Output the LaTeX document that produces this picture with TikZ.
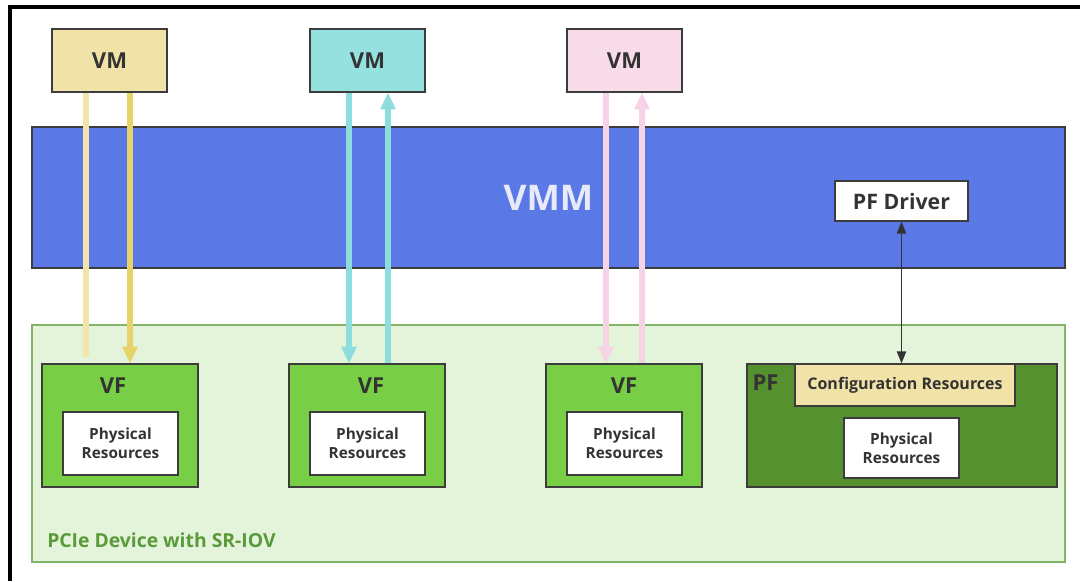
\documentclass[tikz,border=0pt]{standalone}
\usepackage{fontspec}
\setmainfont{Open Sans}
\usetikzlibrary{arrows.meta}
\definecolor{txtgray}{HTML}{333333}
\definecolor{boxline}{HTML}{3C3C3C}
\definecolor{vmyellow}{HTML}{F1E2A7}
\definecolor{vmcyan}{HTML}{95E1E0}
\definecolor{vmpink}{HTML}{F9DCEA}
\definecolor{vmmblue}{HTML}{5A78E6}
\definecolor{vmmtext}{HTML}{E8EAF8}
\definecolor{pciefill}{HTML}{E4F4DA}
\definecolor{pcieline}{HTML}{82B366}
\definecolor{pcietext}{HTML}{5A9A3A}
\definecolor{vfgreen}{HTML}{78CF45}
\definecolor{pfgreen}{HTML}{55922F}
\definecolor{arlightyel}{HTML}{F3E5A8}
\definecolor{ardarkyel}{HTML}{E6D46B}
\definecolor{arcyan}{HTML}{8EDDDE}
\definecolor{arpink}{HTML}{F6D3E5}
\tikzset{
  box/.style={draw=boxline,line width=1pt,inner sep=0pt,text=txtgray},
  vmbox/.style={box,minimum width=86.25pt,minimum height=47.25pt,font=\fontsize{16.5}{19}\selectfont\bfseries},
  vfbox/.style={box,fill=vfgreen,minimum width=117pt,minimum height=92.25pt},
  resbox/.style={box,fill=white,minimum width=86.25pt,minimum height=47.25pt,align=center,font=\fontsize{11.5}{14}\selectfont\bfseries},
  vftext/.style={inner sep=0pt,text=txtgray,font=\fontsize{16.5}{19}\selectfont\bfseries},
  vmline/.style={line width=4.5pt},
  vmarrow/.style={vmline,-{Triangle[width=11pt,length=12.5pt]}}
}
\begin{document}
\begin{tikzpicture}[x=0.75pt,y=-0.75pt]
\useasboundingbox (0,0) rectangle (1080,581);
\fill[white] (0,0) rectangle (1080,581);
\draw[line width=3pt] (10,581) -- (10,7) -- (1080,7);

\node[vmbox,fill=vmyellow] (vmA) at (109.5,60.5) {VM};
\node[vmbox,fill=vmcyan] (vmB) at (367.5,60.5) {VM};
\node[vmbox,fill=vmpink] (vmC) at (624.5,60.5) {VM};

\node[box,fill=vmmblue,minimum width=774.75pt,minimum height=105.75pt,text=vmmtext,font=\fontsize{26.5}{30}\selectfont\bfseries] (vmm) at (548.5,197.5) {VMM};
\node[box,fill=white,minimum width=99.75pt,minimum height=30pt,font=\fontsize{16}{19}\selectfont\bfseries] (pfdrv) at (901.5,201) {PF Driver};

\node[draw=pcieline,fill=pciefill,line width=1pt,minimum width=774.75pt,minimum height=177.75pt] (pcie) at (548.5,443.5) {};
\node[anchor=west,inner sep=0pt,text=pcietext,font=\fontsize{14.5}{17}\selectfont\bfseries] (pcielbl) at (47,540) {PCIe Device with SR-IOV};

\node[vfbox] (vfA) at (120,425.5) {};
\node[vfbox] (vfB) at (367,425.5) {};
\node[vfbox] (vfC) at (624,425.5) {};
\node[vftext] (vfAl) at (113,386) {VF};
\node[vftext] (vfBl) at (371,386) {VF};
\node[vftext] (vfCl) at (624,386) {VF};
\node[resbox] (resA) at (120.5,443.5) {Physical\\Resources};
\node[resbox] (resB) at (367.5,443.5) {Physical\\Resources};
\node[resbox] (resC) at (624.5,443.5) {Physical\\Resources};

\node[box,fill=pfgreen,minimum width=232.5pt,minimum height=92.25pt] (pf) at (902,425.5) {};
\node[vftext] (pfl) at (765.5,383) {PF};
\node[box,fill=vmyellow,minimum width=165pt,minimum height=31.5pt,font=\fontsize{12}{14}\selectfont\bfseries] (cfg) at (905,385) {Configuration Resources};
\node[resbox,minimum height=45pt] (resD) at (901.5,448) {Physical\\Resources};

\draw[vmline,arlightyel,shorten >=4.5pt] (86,0 |- vmA.south) -- (86,0 |- vfA.north);
\draw[vmarrow,ardarkyel] (130,0 |- vmA.south) -- (130,0 |- vfA.north);
\draw[vmarrow,arcyan] (349,0 |- vmB.south) -- (349,0 |- vfB.north);
\draw[vmarrow,arcyan] (388,0 |- vfB.north) -- (388,0 |- vmB.south);
\draw[vmarrow,arpink] (606,0 |- vmC.south) -- (606,0 |- vfC.north);
\draw[vmarrow,arpink] (642,0 |- vfC.north) -- (642,0 |- vmC.south);

\draw[line width=1.1pt,txtgray,{Triangle[width=7pt,length=9pt]}-{Triangle[width=7pt,length=9pt]}] (pfdrv.south) -- (pfdrv.south |- cfg.north);
\end{tikzpicture}
\end{document}
